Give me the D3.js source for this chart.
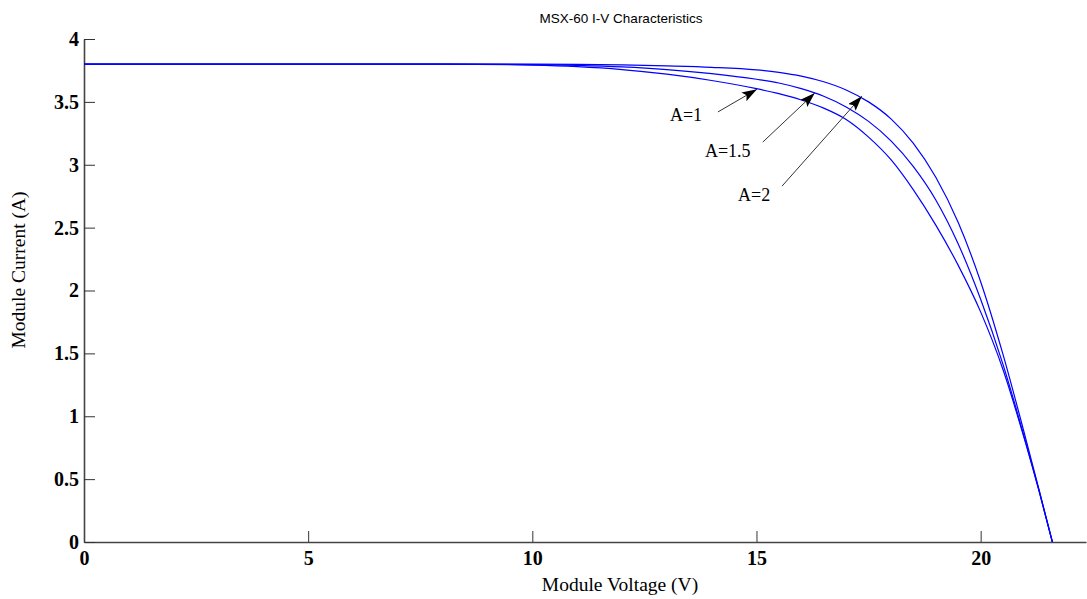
<!DOCTYPE html>
<html>
<head>
<meta charset="utf-8">
<script src="https://cdn.jsdelivr.net/npm/d3@7"></script>
<style>
  body { margin: 0; background: #fff; }
  svg { display: block; }
</style>
</head>
<body>
<div id="chart"></div>
<script>
// values
const voltage = [0, 8, 10, 11, 12, 13, 14, 15, 15.5, 16, 16.5, 17, 17.5, 18, 18.5, 19, 19.5, 20, 20.5, 21, 21.3, 21.6];
const currentA1 = [3.8, 3.8, 3.792, 3.78, 3.757, 3.72, 3.67, 3.605, 3.565, 3.515, 3.45, 3.36, 3.22, 3.04, 2.8, 2.52, 2.2, 1.83, 1.37, 0.79, 0.41, 0];
const currentA15 = [3.8, 3.8, 3.797, 3.79, 3.778, 3.757, 3.725, 3.68, 3.65, 3.605, 3.545, 3.46, 3.345, 3.19, 2.985, 2.72, 2.37, 1.93, 1.41, 0.8, 0.41, 0];
const currentA2 = [3.8, 3.8, 3.8, 3.798, 3.794, 3.786, 3.775, 3.755, 3.735, 3.705, 3.66, 3.595, 3.5, 3.365, 3.17, 2.9, 2.54, 2.07, 1.49, 0.83, 0.42, 0];
const xTicks = [0, 5, 10, 15, 20];
const yTicks = [0, 0.5, 1, 1.5, 2, 2.5, 3, 3.5, 4];

// annotation labels and arrows (data units)
const labels = ['A=1', 'A=1.5', 'A=2'];
const labelPos = [[13.07, 3.35], [13.85, 3.06], [14.59, 2.71]];
const arrowTail = [[14.14, 3.42], [15.14, 3.18], [15.57, 2.83]];
const arrowTip = [[15.01, 3.6], [16.3, 3.57], [17.35, 3.545]];

const width = 1087;
const height = 599;
const margin = { top: 39, right: 1, bottom: 57, left: 84 };
const innerW = width - margin.left - margin.right;
const innerH = height - margin.top - margin.bottom;

const svg = d3.select('#chart').append('svg')
  .attr('width', width)
  .attr('height', height);

const g = svg.append('g')
  .attr('transform', `translate(${margin.left},${margin.top})`);

const x = d3.scaleLinear().domain([0, 22.35]).range([0, innerW]);
const y = d3.scaleLinear().domain([0, 4]).range([innerH, 0]);

// axes, ticks pointing inward like matlab
const xAxis = g.append('g')
  .attr('transform', `translate(0,${innerH})`)
  .call(d3.axisBottom(x).tickValues(xTicks).tickSizeInner(-11).tickSizeOuter(0).tickPadding(9));

const yAxis = g.append('g')
  .call(d3.axisLeft(y).tickValues(yTicks).tickFormat(d3.format('~g'))
    .tickSizeInner(-11).tickSizeOuter(0).tickPadding(5));

[xAxis, yAxis].forEach((ax) => {
  ax.select('.domain').attr('stroke', '#444').attr('stroke-width', 1.6);
  ax.selectAll('.tick line').attr('stroke', '#333').attr('stroke-width', 1);
  ax.selectAll('.tick text')
    .attr('fill', '#000')
    .style('font-family', '"Liberation Serif", "Times New Roman", serif')
    .style('font-weight', 'bold')
    .style('font-size', '20px');
});

// curves
const line = d3.line()
  .x((d, i) => x(voltage[i]))
  .y(d => y(d))
  .curve(d3.curveMonotoneX);

g.selectAll('.iv-curve')
  .data([currentA1, currentA15, currentA2])
  .enter()
  .append('path')
  .attr('class', 'iv-curve')
  .attr('d', d => line(d))
  .attr('fill', 'none')
  .attr('stroke', '#0000ff')
  .attr('stroke-width', 1.2);

// arrow head
svg.append('defs').append('marker')
  .attr('id', 'arrowHead')
  .attr('viewBox', '0 0 15 10')
  .attr('refX', 15)
  .attr('refY', 5)
  .attr('markerWidth', 15)
  .attr('markerHeight', 10)
  .attr('markerUnits', 'userSpaceOnUse')
  .attr('orient', 'auto')
  .append('path')
  .attr('d', 'M0,0 L15,5 L0,10 L3,5 Z')
  .attr('fill', '#000');

g.selectAll('.anno-arrow')
  .data(arrowTail)
  .enter()
  .append('line')
  .attr('class', 'anno-arrow')
  .attr('x1', d => x(d[0]))
  .attr('y1', d => y(d[1]))
  .attr('x2', (d, i) => x(arrowTip[i][0]))
  .attr('y2', (d, i) => y(arrowTip[i][1]))
  .attr('stroke', '#333')
  .attr('stroke-width', 1)
  .attr('marker-end', 'url(#arrowHead)');

g.selectAll('.anno-label')
  .data(labels)
  .enter()
  .append('text')
  .attr('class', 'anno-label')
  .attr('x', (d, i) => x(labelPos[i][0]))
  .attr('y', (d, i) => y(labelPos[i][1]))
  .style('font-family', '"Liberation Serif", "Times New Roman", serif')
  .style('font-size', '18px')
  .attr('fill', '#000')
  .text(d => d);

// title and axis labels
svg.append('text')
  .attr('x', 621)
  .attr('y', 23)
  .attr('text-anchor', 'middle')
  .style('font-family', '"Liberation Sans", Arial, sans-serif')
  .style('font-size', '13.5px')
  .attr('fill', '#000')
  .text('MSX-60 I-V Characteristics');

svg.append('text')
  .attr('x', 620)
  .attr('y', 591)
  .attr('text-anchor', 'middle')
  .style('font-family', '"Liberation Serif", "Times New Roman", serif')
  .style('font-size', '19.5px')
  .attr('fill', '#000')
  .text('Module Voltage (V)');

svg.append('text')
  .attr('transform', 'translate(25,270) rotate(-90)')
  .attr('text-anchor', 'middle')
  .style('font-family', '"Liberation Serif", "Times New Roman", serif')
  .style('font-size', '19.5px')
  .attr('fill', '#000')
  .text('Module Current (A)');
</script>
</body>
</html>
